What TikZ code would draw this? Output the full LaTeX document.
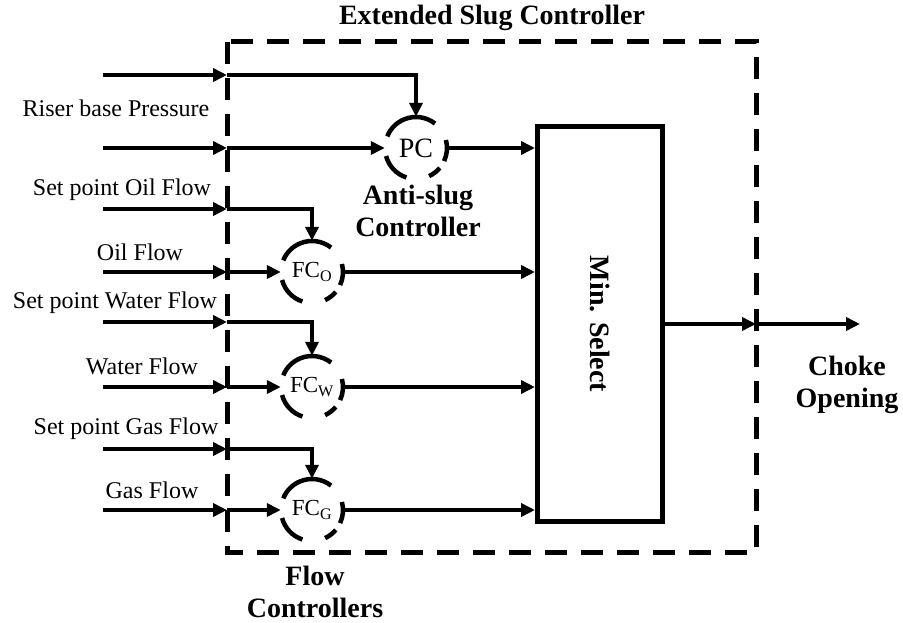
\documentclass[tikz,border=0pt]{standalone}
\usepackage{fontspec}
\setmainfont{Liberation Serif}
\usetikzlibrary{arrows.meta}

\tikzset{
	flow/.style={line width=4pt, -{Triangle[length=14pt, width=13pt]}},
	link/.style={line width=4pt},
	slugbox/.style={line width=5pt, dash pattern=on 22pt off 14pt},
	ctrl/.style={circle, minimum size=62pt, inner sep=0pt},
	ctrlarc/.style={line width=4.5pt},
	selbox/.style={draw, line width=5pt, minimum width=125pt, minimum height=394pt},
	sig/.style={font=\fontsize{24}{28}\selectfont},
	bold/.style={font=\fontsize{28}{32}\selectfont\bfseries, align=center}
}

\begin{document}
\begin{tikzpicture}[x=1pt, y=1pt]
			\useasboundingbox (0,0) rectangle (903,-623);

			% Define nodes with their coordinates
			\node[bold] (title) at (492,-18) {Extended Slug Controller};
			\draw[slugbox] (227,-42) rectangle (756,-552);

			\node[ctrl, font=\fontsize{28}{32}\selectfont] (PC) at (416,-148) {PC};
			\node[ctrl, font=\fontsize{23}{27}\selectfont] (FCo) at (312,-272) {FC$_\mathrm{O}$};
			\node[ctrl, font=\fontsize{23}{27}\selectfont] (FCw) at (312,-387) {FC$_\mathrm{W}$};
			\node[ctrl, font=\fontsize{23}{27}\selectfont] (FCg) at (312,-510) {FC$_\mathrm{G}$};
			\node[selbox] (MS) at (600,-324) {};
			\node[font=\fontsize{28}{32}\selectfont\bfseries] (MStext) at (MS.center) {\rotatebox{-90}{Min. Select}};

			% Broken circles round the controllers
			\foreach \n in {PC,FCo,FCw,FCg} {
				\draw[ctrlarc] (\n.center) ++(52:31) arc (52:158:31);
				\draw[ctrlarc] (\n.center) ++(-25:31) arc (-25:15:31);
				\draw[ctrlarc] (\n.center) ++(-65:31) arc (-65:-40:31);
				\draw[ctrlarc] (\n.center) ++(-165:31) arc (-165:-108:31);
			}

			% Signal labels
			\node[sig] (lRB) at (116,-108) {Riser base Pressure};
			\node[sig] (lSO) at (122,-190) {Set point Oil Flow};
			\node[sig] (lO) at (140,-252) {Oil Flow};
			\node[sig] (lSW) at (115,-303) {Set point Water Flow};
			\node[sig] (lW) at (142,-366) {Water Flow};
			\node[sig] (lSG) at (126,-429) {Set point Gas Flow};
			\node[sig] (lG) at (152,-490) {Gas Flow};

			\node[bold] (lAS) at (418,-211) {Anti-slug\\Controller};
			\node[bold] (lFC) at (315,-592) {Flow\\Controllers};
			\node[bold] (lCO) at (847,-385) {Choke\\Opening};

			% Inputs and crossing points on the box
			\coordinate (a1) at (103,-75);  \coordinate (b1) at (227,-75);
			\coordinate (a2) at (103,-148); \coordinate (b2) at (227,-148);
			\coordinate (a3) at (103,-209); \coordinate (b3) at (227,-209);
			\coordinate (a4) at (103,-272); \coordinate (b4) at (227,-272);
			\coordinate (a5) at (103,-322); \coordinate (b5) at (227,-322);
			\coordinate (a6) at (103,-387); \coordinate (b6) at (227,-387);
			\coordinate (a7) at (103,-449); \coordinate (b7) at (227,-449);
			\coordinate (a8) at (103,-510); \coordinate (b8) at (227,-510);
			\coordinate (bR) at (756,-324);
			\coordinate (chk) at (860,-324);

			\foreach \i in {1,...,8}
				\draw[flow] (a\i) -- (b\i);

			% Draw edges
			\draw[flow] (b1) -| (PC.north);
			\draw[flow] (b2) -- (PC.west);
			\draw[flow] (b3) -| (FCo.north);
			\draw[flow] (b4) -- (FCo.west);
			\draw[flow] (b5) -| (FCw.north);
			\draw[flow] (b6) -- (FCw.west);
			\draw[flow] (b7) -| (FCg.north);
			\draw[flow] (b8) -- (FCg.west);

			\draw[flow] (PC.east) -- (PC.east -| MS.west);
			\draw[flow] (FCo.east) -- (FCo.east -| MS.west);
			\draw[flow] (FCw.east) -- (FCw.east -| MS.west);
			\draw[flow] (FCg.east) -- (FCg.east -| MS.west);

			\draw[flow] (MS.east) -- (bR);
			\draw[flow] (bR) -- (chk);

		\end{tikzpicture}
\end{document}
